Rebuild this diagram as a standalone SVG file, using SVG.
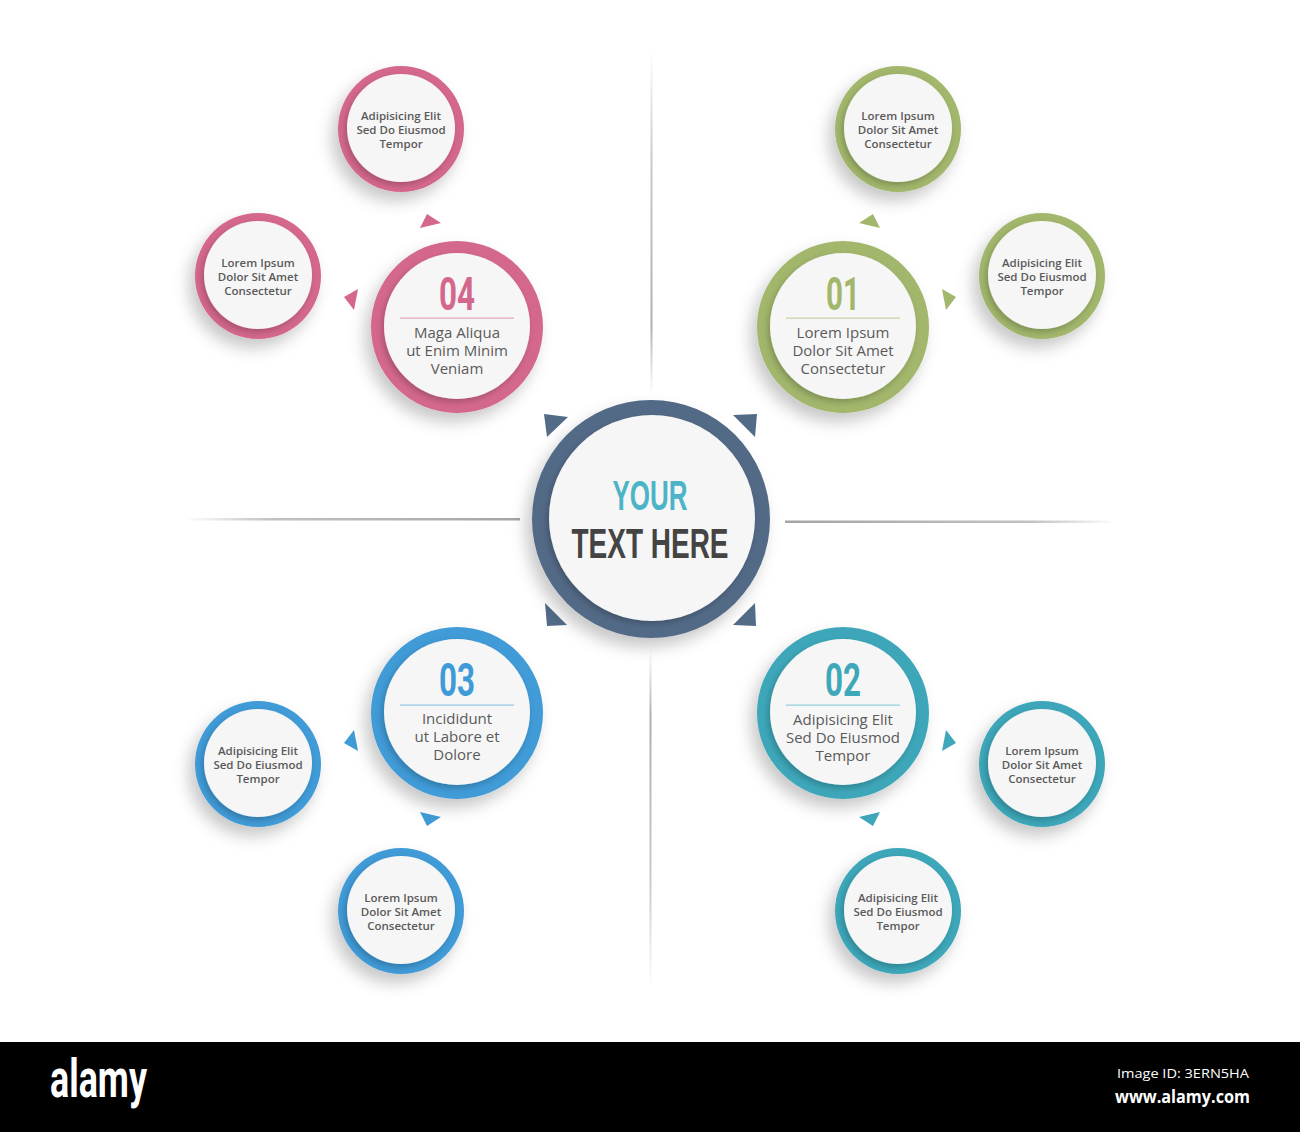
<svg xmlns="http://www.w3.org/2000/svg" width="1300" height="1132" viewBox="0 0 1300 1132">
<defs>
<style>
.face{fill:#f6f6f6}
.num{font-family:Roboto,"Liberation Sans",sans-serif;font-weight:700;font-size:46px;text-anchor:middle}
.ctr{font-family:"Liberation Sans",Roboto,sans-serif;font-weight:700;font-size:42px;text-anchor:middle}
.big{font-family:"Open Sans","Liberation Sans",sans-serif;font-weight:500;font-size:15px;fill:#5a5a5a;text-anchor:middle}
.sm{font-family:"Open Sans","Liberation Sans",sans-serif;font-weight:600;font-size:11.5px;fill:#5a5a5a;text-anchor:middle}
.pink{fill:#d4678c}
.green{fill:#a2b76c}
.teal{fill:#3ea7b9}
.blue{fill:#3f9bd7}
.slate{fill:#526b87}
</style>
<filter id="sh" x="-40%" y="-40%" width="180%" height="180%">
<feDropShadow dx="-6" dy="9" stdDeviation="8" flood-color="#000" flood-opacity="0.22"/>
</filter>
<filter id="shi" x="-30%" y="-30%" width="160%" height="160%">
<feDropShadow dx="-2" dy="3" stdDeviation="3" flood-color="#000" flood-opacity="0.22"/>
</filter>
<linearGradient id="gh1" x1="0" y1="0" x2="1" y2="0">
<stop offset="0" stop-color="#a8a8a8" stop-opacity="0"/>
<stop offset="0.25" stop-color="#a8a8a8" stop-opacity="0.7"/>
<stop offset="1" stop-color="#9a9a9a" stop-opacity="0.9"/>
</linearGradient>
<linearGradient id="gh2" x1="0" y1="0" x2="1" y2="0">
<stop offset="0" stop-color="#9a9a9a" stop-opacity="0.9"/>
<stop offset="0.75" stop-color="#a8a8a8" stop-opacity="0.7"/>
<stop offset="1" stop-color="#a8a8a8" stop-opacity="0"/>
</linearGradient>
<linearGradient id="gv1" x1="0" y1="0" x2="0" y2="1">
<stop offset="0" stop-color="#a8a8a8" stop-opacity="0"/>
<stop offset="0.3" stop-color="#a8a8a8" stop-opacity="0.6"/>
<stop offset="0.8" stop-color="#9a9a9a" stop-opacity="0.8"/>
<stop offset="1" stop-color="#a8a8a8" stop-opacity="0"/>
</linearGradient>
<linearGradient id="gv2" x1="0" y1="0" x2="0" y2="1">
<stop offset="0" stop-color="#a8a8a8" stop-opacity="0"/>
<stop offset="0.2" stop-color="#9a9a9a" stop-opacity="0.8"/>
<stop offset="0.7" stop-color="#a8a8a8" stop-opacity="0.6"/>
<stop offset="1" stop-color="#a8a8a8" stop-opacity="0"/>
</linearGradient>
</defs>
<rect x="0" y="0" width="1300" height="1132" fill="#ffffff"/>

<g id="dividers">
<rect x="185" y="518" width="335" height="2.5" fill="url(#gh1)"/>
<rect x="785" y="520.5" width="330" height="2.5" fill="url(#gh2)"/>
<rect x="650.5" y="50" width="2" height="345" fill="url(#gv1)"/>
<rect x="649.5" y="648" width="2" height="340" fill="url(#gv2)"/>
</g>

<g id="connectors">
<polygon class="slate" points="544,414 568,417 547,437"/>
<polygon class="slate" points="733,415 757,414 755,437"/>
<polygon class="slate" points="545,603 547,626 567,625"/>
<polygon class="slate" points="755,603 756,626 733,625"/>
<polygon class="pink" points="420,228 427,214 441,223"/>
<polygon class="pink" points="344,297 358,289 354,310"/>
<polygon class="green" points="880,228 873,214 859,223"/>
<polygon class="green" points="956,297 942,289 946,310"/>
<polygon class="blue" points="420,812 427,826 441,817"/>
<polygon class="blue" points="344,743 358,751 354,730"/>
<polygon class="teal" points="880,812 873,826 859,817"/>
<polygon class="teal" points="956,743 942,751 946,730"/>
</g>

<g id="center">
<circle cx="651" cy="519" r="119" class="slate" filter="url(#sh)"/>
<circle cx="652" cy="518" r="103" class="face" filter="url(#shi)"/>
<text x="650" y="510" class="ctr" fill="#4db4c7" textLength="75" lengthAdjust="spacingAndGlyphs">YOUR</text>
<text x="650" y="558" class="ctr" fill="#444444" textLength="157" lengthAdjust="spacingAndGlyphs">TEXT HERE</text>
</g>

<g id="node-01">
<circle cx="843" cy="327" r="86" class="green" filter="url(#sh)"/>
<circle cx="843" cy="326" r="73" class="face" filter="url(#shi)"/>
<text x="843" y="310" class="num green" textLength="34" lengthAdjust="spacingAndGlyphs">01</text>
<rect x="786" y="317.5" width="114" height="1.2" fill="#c6d1a6"/>
<text x="843" y="338" class="big">Lorem Ipsum</text>
<text x="843" y="356" class="big">Dolor Sit Amet</text>
<text x="843" y="374" class="big">Consectetur</text>
</g>

<g id="node-01a">
<circle cx="898" cy="129" r="63" class="green" filter="url(#sh)"/>
<circle cx="898" cy="128" r="54" class="face" filter="url(#shi)"/>
<text x="898" y="120" class="sm">Lorem Ipsum</text>
<text x="898" y="134" class="sm">Dolor Sit Amet</text>
<text x="898" y="148" class="sm">Consectetur</text>
</g>

<g id="node-01b">
<circle cx="1042" cy="276" r="63" class="green" filter="url(#sh)"/>
<circle cx="1042" cy="275" r="54" class="face" filter="url(#shi)"/>
<text x="1042" y="267" class="sm">Adipisicing Elit</text>
<text x="1042" y="281" class="sm">Sed Do Eiusmod</text>
<text x="1042" y="295" class="sm">Tempor</text>
</g>

<g id="node-02">
<circle cx="843" cy="713" r="86" class="teal" filter="url(#sh)"/>
<circle cx="843" cy="712" r="73" class="face" filter="url(#shi)"/>
<text x="843" y="696" class="num teal" textLength="36" lengthAdjust="spacingAndGlyphs">02</text>
<rect x="786" y="704.5" width="114" height="1.2" fill="#8fcfd9"/>
<text x="843" y="725" class="big">Adipisicing Elit</text>
<text x="843" y="743" class="big">Sed Do Eiusmod</text>
<text x="843" y="761" class="big">Tempor</text>
</g>

<g id="node-02a">
<circle cx="1042" cy="764" r="63" class="teal" filter="url(#sh)"/>
<circle cx="1042" cy="763" r="54" class="face" filter="url(#shi)"/>
<text x="1042" y="755" class="sm">Lorem Ipsum</text>
<text x="1042" y="769" class="sm">Dolor Sit Amet</text>
<text x="1042" y="783" class="sm">Consectetur</text>
</g>

<g id="node-02b">
<circle cx="898" cy="911" r="63" class="teal" filter="url(#sh)"/>
<circle cx="898" cy="910" r="54" class="face" filter="url(#shi)"/>
<text x="898" y="902" class="sm">Adipisicing Elit</text>
<text x="898" y="916" class="sm">Sed Do Eiusmod</text>
<text x="898" y="930" class="sm">Tempor</text>
</g>

<g id="node-03">
<circle cx="457" cy="713" r="86" class="blue" filter="url(#sh)"/>
<circle cx="457" cy="712" r="73" class="face" filter="url(#shi)"/>
<text x="457" y="696" class="num blue" textLength="36" lengthAdjust="spacingAndGlyphs">03</text>
<rect x="400" y="704.5" width="114" height="1.2" fill="#95c7ea"/>
<text x="457" y="724" class="big">Incididunt</text>
<text x="457" y="742" class="big">ut Labore et</text>
<text x="457" y="760" class="big">Dolore</text>
</g>

<g id="node-03a">
<circle cx="258" cy="764" r="63" class="blue" filter="url(#sh)"/>
<circle cx="258" cy="763" r="54" class="face" filter="url(#shi)"/>
<text x="258" y="755" class="sm">Adipisicing Elit</text>
<text x="258" y="769" class="sm">Sed Do Eiusmod</text>
<text x="258" y="783" class="sm">Tempor</text>
</g>

<g id="node-03b">
<circle cx="401" cy="911" r="63" class="blue" filter="url(#sh)"/>
<circle cx="401" cy="910" r="54" class="face" filter="url(#shi)"/>
<text x="401" y="902" class="sm">Lorem Ipsum</text>
<text x="401" y="916" class="sm">Dolor Sit Amet</text>
<text x="401" y="930" class="sm">Consectetur</text>
</g>

<g id="node-04">
<circle cx="457" cy="327" r="86" class="pink" filter="url(#sh)"/>
<circle cx="457" cy="326" r="73" class="face" filter="url(#shi)"/>
<text x="457" y="310" class="num pink" textLength="36" lengthAdjust="spacingAndGlyphs">04</text>
<rect x="400" y="317.5" width="114" height="1.2" fill="#e6a3b8"/>
<text x="457" y="338" class="big">Maga Aliqua</text>
<text x="457" y="356" class="big">ut Enim Minim</text>
<text x="457" y="374" class="big">Veniam</text>
</g>

<g id="node-04a">
<circle cx="401" cy="129" r="63" class="pink" filter="url(#sh)"/>
<circle cx="401" cy="128" r="54" class="face" filter="url(#shi)"/>
<text x="401" y="120" class="sm">Adipisicing Elit</text>
<text x="401" y="134" class="sm">Sed Do Eiusmod</text>
<text x="401" y="148" class="sm">Tempor</text>
</g>

<g id="node-04b">
<circle cx="258" cy="276" r="63" class="pink" filter="url(#sh)"/>
<circle cx="258" cy="275" r="54" class="face" filter="url(#shi)"/>
<text x="258" y="267" class="sm">Lorem Ipsum</text>
<text x="258" y="281" class="sm">Dolor Sit Amet</text>
<text x="258" y="295" class="sm">Consectetur</text>
</g>

<g id="footer">
<rect x="0" y="1042" width="1300" height="90" fill="#000000"/>
<text x="50" y="1097" font-family="Roboto,'Liberation Sans',sans-serif" font-weight="700" font-size="54" fill="#ffffff" textLength="97" lengthAdjust="spacingAndGlyphs">alamy</text>
<text x="1249" y="1078" font-family="'Open Sans','Liberation Sans',sans-serif" font-size="13" fill="#ffffff" text-anchor="end" textLength="132" lengthAdjust="spacingAndGlyphs">Image ID: 3ERN5HA</text>
<text x="1250" y="1103" font-family="'Open Sans','Liberation Sans',sans-serif" font-weight="700" font-size="17" fill="#ffffff" text-anchor="end" textLength="135" lengthAdjust="spacingAndGlyphs">www.alamy.com</text>
</g>
</svg>
